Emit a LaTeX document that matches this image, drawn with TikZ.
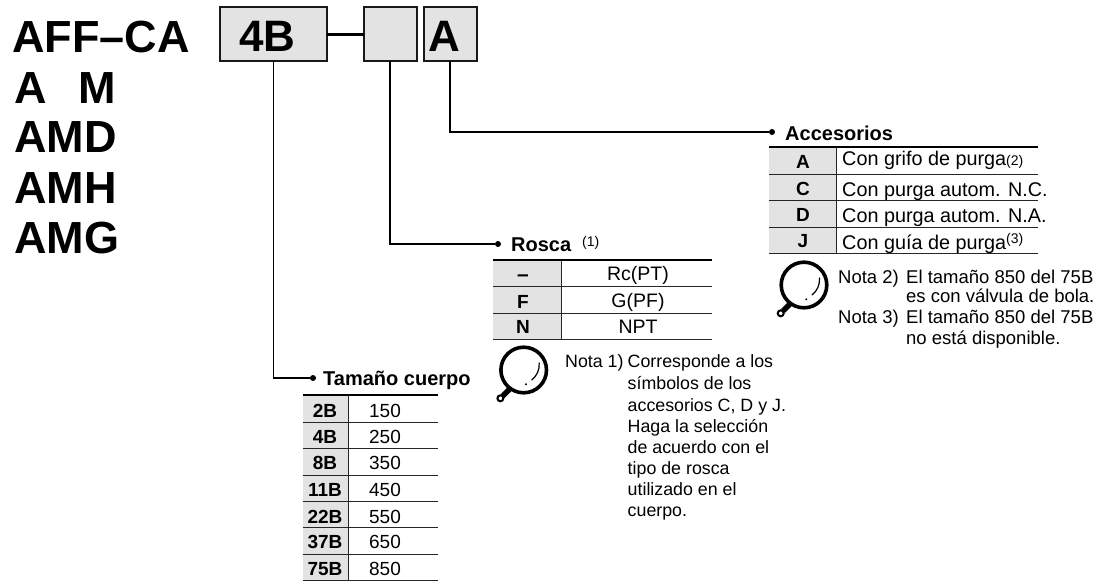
\documentclass[tikz,border=0pt]{standalone}
\usepackage{fontspec}
\setmainfont{Liberation Sans}
\definecolor{boxgray}{gray}{0.89}
\definecolor{linegray}{gray}{0.1}
\newcommand{\fs}[1]{\fontsize{#1}{#1}\selectfont}
\tikzset{
  x=1pt,y=-1pt,
  codebox/.style={draw=linegray,fill=boxgray,line width=2pt,minimum height=54pt,inner sep=0pt,outer sep=0pt},
  series/.style={anchor=base west,inner sep=0pt,font=\fs{45}\bfseries},
  leader/.style={draw=black,line width=1.7pt},
  dotnode/.style={circle,fill=black,inner sep=0pt,minimum size=6pt},
  ttl/.style={anchor=base west,inner sep=0pt,font=\fs{20}\bfseries},
  cellb/.style={anchor=base,inner sep=0pt,font=\fs{19}\bfseries},
  cellr/.style={anchor=base,inner sep=0pt,font=\fs{19.5}},
  celll/.style={anchor=base west,inner sep=0pt,font=\fs{19.8}},
  notea/.style={anchor=base west,inner sep=0pt,font=\fs{18.5}},
  noteb/.style={anchor=base west,inner sep=0pt,font=\fs{17.8}},
  thickrule/.style={line width=2pt,draw=black},
  thinrule/.style={line width=1pt,draw=black!85},
  colrule/.style={line width=1pt,draw=black!85},
  pics/magnifier/.style={code={
    \draw[line width=3.6pt] (0,0) circle (22.8);
    \draw[line width=1.2pt,line cap=round] (15.5,-7) .. controls (16,0) and (13,6) .. (8,10);
    \fill (2.3,14.3) circle (1.1);
    \draw[line width=5.5pt] (-13,18) -- (-21,26);
    \draw[line width=2pt,fill=white] (-23.3,28.3) circle (3);
  }}
}
\begin{document}
\begin{tikzpicture}
\useasboundingbox (0,0) rectangle (1103,581);
% series
\node[series] (s1) at (12,52) {AFF–CA};
\node[series] (s2) at (14,103) {A};
\node[series] (s2b) at (78,103) {M};
\node[series] (s3) at (14,152.5) {AMD};
\node[series] (s4) at (14,203) {AMH};
\node[series] (s5) at (14,253) {AMG};
% boxes
\node[codebox,minimum width=107pt,anchor=north west] (b1) at (220,7) {};
\node[inner sep=0pt,anchor=base west,font=\fs{44}\bfseries] (b1t) at (239,51.5) {4B};
\node[codebox,minimum width=53pt,anchor=north west] (b2) at (364,7) {};
\node[codebox,minimum width=53pt,anchor=north west] (b3) at (424,7) {};
\node[inner sep=0pt,anchor=base west,font=\fs{44}\bfseries] (b3t) at (428,51.5) {A};
\draw[line width=3pt] (b1.east) -- (b2.west);
% dots
\node[dotnode] (d3) at (772,132) {};
\node[dotnode] (d2) at (498,244) {};
\node[dotnode] (d1) at (313,378) {};
\draw[leader] (b3.south -| 450,0) -- (450,132) -- (d3);
\draw[leader] (b2.south -| 390,0) -- (390,244) -- (d2);
\draw[leader] (b1.south) -- (b1.south |- d1) -- (d1);
% Accesorios table
\node[ttl] (t3) at (785,140) {Accesorios};
\fill[boxgray] (769,147) rectangle (836,253);
\draw[colrule] (836,147) -- (836,253);
\draw[thickrule] (769,147) -- (1038,147);
\foreach \y in {174,200,227,253} \draw[thinrule] (769,\y) -- (1038,\y);
\node[cellb] (a1) at (803,168.5) {A};
\node[cellb] (a2) at (803,195) {C};
\node[cellb] (a3) at (803,221) {D};
\node[cellb] (a4) at (803,247.5) {J};
\node[celll] (a1t) at (842,165) {Con grifo de purga{\fs{14}(2)}};
\node[celll] (a2t) at (842,196) {Con purga autom. N.C.};
\node[celll] (a3t) at (842,222.5) {Con purga autom. N.A.};
\node[celll] (a4t) at (842,249) {Con guía de purga\raisebox{6pt}{\fs{14}(3)}};
\pic at (804,285) {magnifier};
\node[notea] (n2) at (838,283) {Nota 2)};
\node[notea] (n2a) at (906,283) {El tamaño 850 del 75B};
\node[notea] (n2b) at (906,302.5) {es con válvula de bola.};
\node[notea] (n3) at (838,323) {Nota 3)};
\node[notea] (n3a) at (906,323) {El tamaño 850 del 75B};
\node[notea] (n3b) at (906,344.5) {no está disponible.};
% Rosca table
\node[ttl] (t2) at (511,251) {Rosca};
\node[inner sep=0pt,anchor=base west,font=\fs{14}] (t2n) at (582,246) {(1)};
\fill[boxgray] (493,260) rectangle (561,339);
\draw[colrule] (561,260) -- (561,339);
\draw[thickrule] (493,260) -- (712,260);
\foreach \y in {286,313,339} \draw[thinrule] (493,\y) -- (712,\y);
\node[cellb,font=\fs{21}\bfseries] (r1) at (523,281) {–};
\node[cellb] (r2) at (523,308) {F};
\node[cellb] (r3) at (523,333) {N};
\node[cellr] (r1t) at (638,280) {Rc(PT)};
\node[cellr] (r2t) at (638,307) {G(PF)};
\node[cellr] (r3t) at (638,333) {NPT};
\pic at (523.7,370) {magnifier};
\node[noteb] (n1) at (565,367.5) {Nota 1)};
\node[noteb] (n1a) at (627.5,367.5) {Corresponde a los};
\node[noteb] (n1b) at (627.5,389) {símbolos de los};
\node[noteb] (n1c) at (627.5,411) {accesorios C, D y J.};
\node[noteb] (n1d) at (627.5,432) {Haga la selección};
\node[noteb] (n1e) at (627.5,453) {de acuerdo con el};
\node[noteb] (n1f) at (627.5,474) {tipo de rosca};
\node[noteb] (n1g) at (627.5,495) {utilizado en el};
\node[noteb] (n1h) at (627.5,516.5) {cuerpo.};
% Tamano table
\node[ttl] (t1) at (323,385) {Tamaño cuerpo};
\fill[boxgray] (303,395) rectangle (348,580);
\draw[colrule] (348,395) -- (348,580);
\draw[thickrule] (303,395) -- (438,395);
\foreach \y in {422,448,475,501,527,554,580} \draw[thinrule] (303,\y) -- (438,\y);
\foreach \n/\c/\v/\y in {1/2B/150/417,2/4B/250/443,3/8B/350/469,4/11B/450/496,5/22B/550/523,6/37B/650/548,7/75B/850/575}{
  \node[cellb] (tc\n) at (325,\y) {\c};
  \node[cellr,font=\fs{19}] (tv\n) at (385,\y) {\v};
}
\end{tikzpicture}
\end{document}
